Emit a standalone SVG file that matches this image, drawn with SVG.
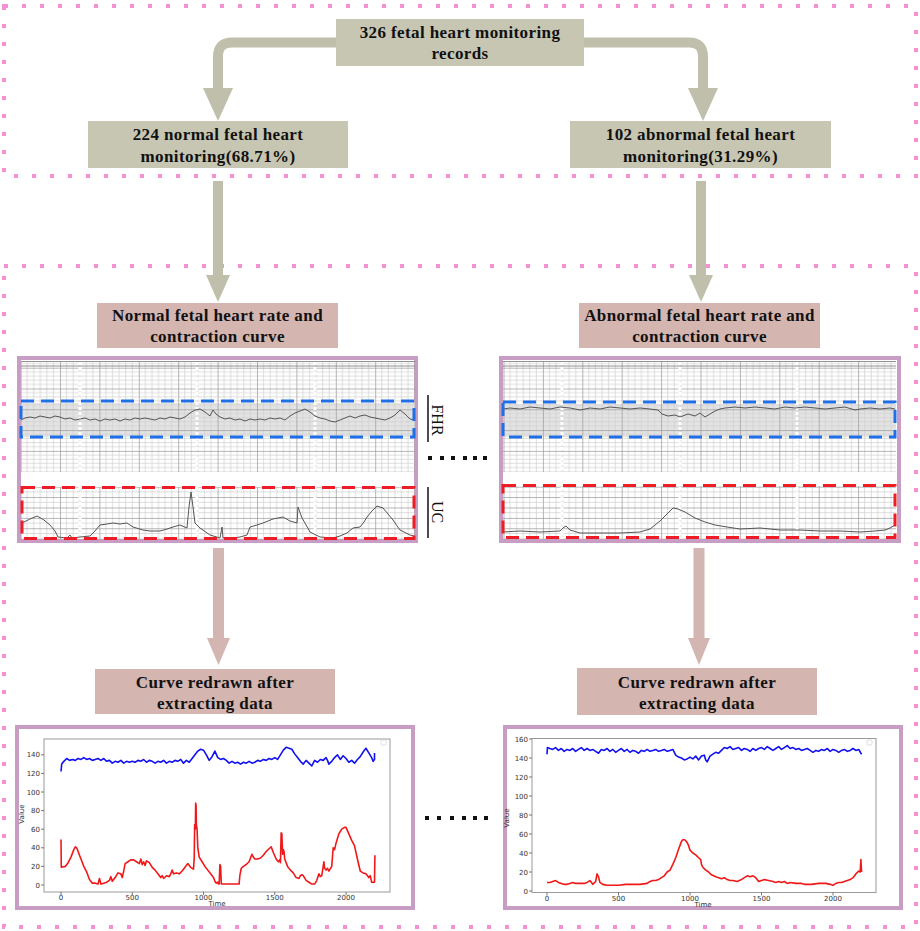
<svg xmlns="http://www.w3.org/2000/svg" width="920" height="931" viewBox="0 0 920 931">
<style>
.dotb{fill:none;stroke:#f590d2;stroke-width:4;stroke-dasharray:4 14}
.gbox{fill:#c6c6b3}
.pbox{fill:#d4b5b0}
.t{font-family:"Liberation Serif","Times New Roman",serif;font-weight:bold;font-size:17px;fill:#111;text-anchor:middle;letter-spacing:0.4px}
.lab{font-family:"Liberation Serif","Times New Roman",serif;font-size:16px;fill:#111;text-anchor:middle}
.garr{fill:none;stroke:#bfbfab;stroke-width:10}
.gah{fill:#bfbfab}
.parr{fill:none;stroke:#d3b5b1;stroke-width:11}
.pah{fill:#d3b5b1}
.frame{fill:#fff;stroke:#c79dc3;stroke-width:4}
.band{fill:#e3e3e3}
.bdash{fill:none;stroke:#1f6fe8;stroke-width:3;stroke-dasharray:13 7}
.rdash{fill:none;stroke:#ee1c25;stroke-width:3;stroke-dasharray:13 7}
.trace{fill:none;stroke:#555;stroke-width:1}
.col{stroke:#fff;stroke-width:3;stroke-dasharray:3 2}
.tick{font-family:"DejaVu Sans",sans-serif;font-size:7px;fill:#333}
.ax{fill:none;stroke:#999;stroke-width:1}
.tk{stroke:#555;stroke-width:0.8}
.blue{fill:none;stroke:#1010f0;stroke-width:1.6;stroke-linejoin:round}
.red{fill:none;stroke:#f01818;stroke-width:1.6;stroke-linejoin:round}
.sq{fill:#111}
</style>
<defs>
<pattern id="fhrL" patternUnits="userSpaceOnUse" x="20.6" y="367.7" width="39.4" height="20.8">
<path d="M6.57 0V20.8M13.13 0V20.8M19.7 0V20.8M26.27 0V20.8M32.83 0V20.8M0 4.16H39.4M0 8.32H39.4M0 12.48H39.4M0 16.64H39.4" stroke="#cfcfcf" stroke-width="0.7"/>
<path d="M0.4 0V20.8M0 0.4H39.4" stroke="#9a9a9a" stroke-width="0.8"/>
</pattern>
<pattern id="fhrR" patternUnits="userSpaceOnUse" x="503.5" y="367.7" width="39.4" height="20.8">
<path d="M6.57 0V20.8M13.13 0V20.8M19.7 0V20.8M26.27 0V20.8M32.83 0V20.8M0 4.16H39.4M0 8.32H39.4M0 12.48H39.4M0 16.64H39.4" stroke="#cfcfcf" stroke-width="0.7"/>
<path d="M0.4 0V20.8M0 0.4H39.4" stroke="#9a9a9a" stroke-width="0.8"/>
</pattern>
<pattern id="ucL" patternUnits="userSpaceOnUse" x="20.6" y="486.7" width="39.4" height="10.4">
<path d="M6.57 0V10.4M13.13 0V10.4M19.7 0V10.4M26.27 0V10.4M32.83 0V10.4M0 5.2H39.4" stroke="#cfcfcf" stroke-width="0.7"/>
<path d="M0.4 0V10.4M0 0.4H39.4" stroke="#9a9a9a" stroke-width="0.8"/>
</pattern>
<pattern id="ucR" patternUnits="userSpaceOnUse" x="503.5" y="486.7" width="39.4" height="10.4">
<path d="M6.57 0V10.4M13.13 0V10.4M19.7 0V10.4M26.27 0V10.4M32.83 0V10.4M0 5.2H39.4" stroke="#cfcfcf" stroke-width="0.7"/>
<path d="M0.4 0V10.4M0 0.4H39.4" stroke="#9a9a9a" stroke-width="0.8"/>
</pattern>
</defs>
<rect width="920" height="931" fill="#fff"/>
<g id="borders">
<rect class="dotb" x="4" y="6" width="912" height="170"/>
<rect class="dotb" x="4" y="266" width="912" height="661"/>
</g>
<g id="connectors">
<path class="garr" d="M336 42.5H232Q218 42.5 218 56.5V90"/>
<polygon class="gah" points="203,88 233,88 218,121"/>
<path class="garr" d="M584 42.5H689Q703 42.5 703 56.5V90"/>
<polygon class="gah" points="688,88 718,88 703,121"/>
<path class="garr" d="M218 181V277"/>
<polygon class="gah" points="206,275 230,275 218,302"/>
<path class="garr" d="M701 181V277"/>
<polygon class="gah" points="689,275 713,275 701,302"/>
<path class="parr" d="M218.5 548V640"/>
<polygon class="pah" points="207,638 230,638 218.5,665"/>
<path class="parr" d="M699 548V640"/>
<polygon class="pah" points="688,638 710,638 699,665"/>
</g>
<g id="n-records">
<rect class="gbox" x="336" y="19" width="248" height="47"/>
<text class="t" x="460" y="38">326 fetal heart monitoring</text>
<text class="t" x="460" y="59">records</text>
</g>
<g id="n-normal">
<rect class="gbox" x="88" y="121" width="260" height="47"/>
<text class="t" x="218" y="140">224 normal fetal heart</text>
<text class="t" x="218" y="162">monitoring(68.71%)</text>
</g>
<g id="n-abnormal">
<rect class="gbox" x="570" y="121" width="261" height="47"/>
<text class="t" x="700.5" y="140">102 abnormal fetal heart</text>
<text class="t" x="700.5" y="162">monitoring(31.29%)</text>
</g>
<g id="n-normal-curve-title">
<rect class="pbox" x="97" y="303" width="241" height="45"/>
<text class="t" x="217.5" y="321">Normal fetal heart rate and</text>
<text class="t" x="217.5" y="342">contraction curve</text>
</g>
<g id="n-abnormal-curve-title">
<rect class="pbox" x="579" y="303" width="241" height="45"/>
<text class="t" x="699.5" y="321">Abnormal fetal heart rate and</text>
<text class="t" x="699.5" y="342">contraction curve</text>
</g>
<g id="n-normal-ctg">
<rect class="frame" x="19" y="358" width="397" height="183"/>
<rect class="band" x="21" y="403" width="394" height="34"/>
<rect x="21" y="362" width="394" height="110" fill="url(#fhrL)"/>
<rect x="21" y="487" width="394" height="52" fill="url(#ucL)"/>
<path d="M21 361.5H415M21 366H415" stroke="#777" stroke-width="0.8"/>
<path class="col" d="M80 362V472M197 362V472M315 362V472M80 487V539M197 487V539M315 487V539"/>
<polyline class="trace" points="21,420 25,418 30,417 35,418 40,416 45,417 50,418 55,416 60,417 65,419 70,418 75,420 80,419 85,418 90,420 95,419 100,421 105,419 110,420 115,419 120,421 125,419 130,420 135,418 140,419 145,418 150,419 155,420 160,418 165,419 170,417 175,418 180,419 185,417 190,413 195,410 200,409 205,412 210,416 213,410 216,414 220,417 225,419 230,418 235,420 240,419 245,421 250,419 255,420 260,419 265,420 270,418 275,419 280,418 285,420 290,416 295,413 300,411 305,409 310,412 315,416 320,418 325,419 330,421 335,422 340,420 345,418 350,416 355,418 360,416 365,415 370,417 375,418 380,419 385,420 390,418 395,415 400,410 405,414 410,419 414,420"/>
<polyline class="trace" points="22,523 30,519 37,516 44,520 50,525 55,531 58,537 67,538 70,535 72,538 80,537 90,536 95,531 100,525 107,524 113,523 120,524 127,523 133,527 143,530 150,531 160,531 167,529 173,527 180,525 187,528 189,507 191,492 193,507 195,523 200,528 210,535 220,538 222,527 223,538 233,538 240,537 247,535 250,527 257,525 263,523 268,521 273,519 278,518 283,517 290,521 297,523 298,507 302,518 305,523 310,532 320,537 333,538 340,536 347,533 353,528 360,527 364,522 367,517 372,511 377,506 383,508 388,514 393,520 400,530 410,535 414,536"/>
<rect class="bdash" x="21" y="401" width="393" height="36"/>
<rect class="rdash" x="22" y="487.5" width="392" height="51"/>
</g>
<g id="n-abnormal-ctg">
<rect class="frame" x="501" y="358" width="398" height="183"/>
<rect class="band" x="503" y="404" width="393" height="33"/>
<rect x="503" y="362" width="393" height="110" fill="url(#fhrR)"/>
<rect x="503" y="486" width="393" height="53" fill="url(#ucR)"/>
<path d="M503 361.5H896M503 366H896" stroke="#777" stroke-width="0.8"/>
<path class="col" d="M562 362V472M680 362V472M797 362V472M562 487V539M680 487V539M797 487V539"/>
<polyline class="trace" points="503,409 510,408 520,409 530,407 540,408 550,409 560,407 570,408 580,410 590,408 600,409 610,407 620,408 630,409 640,408 650,409 658,410 662,414 668,416 675,415 680,417 688,414 695,416 700,413 705,417 710,414 715,411 720,409 725,408 735,407 745,408 755,407 765,408 775,409 785,407 795,408 805,407 815,408 825,409 835,408 845,407 855,410 860,409 870,408 880,409 890,408 895,409"/>
<polyline class="trace" points="503,532 520,531 540,532 560,531 563,528 566,526 570,530 580,533 600,533 620,533 640,532 650,529 660,521 668,513 673,508 678,509 685,512 695,518 705,522 715,525 727,527 740,529 760,528 780,530 800,530 820,531 840,531 860,532 875,531 885,530 890,528 895,525"/>
<rect class="bdash" x="503" y="402" width="392" height="35"/>
<rect class="rdash" x="503" y="485.5" width="392" height="52"/>
</g>
<g id="side-labels">
<path d="M428 395V442M428 487V538" stroke="#111" stroke-width="1.5"/>
<text class="lab" x="432" y="420" transform="rotate(90 432 420)">FHR</text>
<text class="lab" x="432" y="512" transform="rotate(90 432 512)">UC</text>
<rect class="sq" x="428" y="456" width="4" height="4"/>
<rect class="sq" x="440" y="456" width="4" height="4"/>
<rect class="sq" x="451" y="456" width="4" height="4"/>
<rect class="sq" x="463" y="456" width="4" height="4"/>
<rect class="sq" x="473" y="456" width="4" height="4"/>
<rect class="sq" x="483" y="456" width="4" height="4"/>
<rect class="sq" x="425" y="816" width="4" height="4"/>
<rect class="sq" x="437" y="816" width="4" height="4"/>
<rect class="sq" x="450" y="816" width="4" height="4"/>
<rect class="sq" x="462" y="816" width="4" height="4"/>
<rect class="sq" x="473" y="816" width="4" height="4"/>
<rect class="sq" x="484" y="816" width="4" height="4"/>
</g>
<g id="n-normal-redrawn-title">
<rect class="pbox" x="95" y="669" width="240" height="45"/>
<text class="t" x="215" y="688">Curve redrawn after</text>
<text class="t" x="215" y="709">extracting data</text>
</g>
<g id="n-abnormal-redrawn-title">
<rect class="pbox" x="577" y="668" width="240" height="47"/>
<text class="t" x="697" y="688">Curve redrawn after</text>
<text class="t" x="697" y="709">extracting data</text>
</g>
<g id="n-normal-chart">
<rect class="frame" x="17" y="727" width="396" height="181"/>
<rect class="ax" x="44" y="739" width="346" height="153"/>
<rect x="381" y="740" width="5" height="5" rx="1" fill="none" stroke="#ccc" stroke-width="0.6"/>
<path class="tk" d="M41 885H44M41 866.4H44M41 847.8H44M41 829.2H44M41 810.6H44M41 792H44M41 773.4H44M41 754.8H44M61 892V895M132.25 892V895M203.5 892V895M274.75 892V895M346 892V895"/>
<g class="tick" text-anchor="end">
<text x="40" y="887.5">0</text><text x="40" y="868.9">20</text><text x="40" y="850.3">40</text><text x="40" y="831.7">60</text><text x="40" y="813.1">80</text><text x="40" y="794.5">100</text><text x="40" y="775.9">120</text><text x="40" y="757.3">140</text>
</g>
<g class="tick" text-anchor="middle">
<text x="61" y="900">0</text><text x="132.25" y="900">500</text><text x="203.5" y="900">1000</text><text x="274.75" y="900">1500</text><text x="346" y="900">2000</text>
<text x="217" y="906">Time</text>
<text x="24" y="814" transform="rotate(-90 24 814)">Value</text>
</g>
<g transform="matrix(0.1425 0 0 -0.93 61 885)">
<polyline class="blue" vector-effect="non-scaling-stroke" points="0,122 5,130 20,133 40,136 60,134 80,135 100,134 120,136 140,135 160,137 180,135 200,136 220,134 240,135 260,136 280,134 300,136 320,133 340,134 360,131 380,133 400,132 420,134 440,131 460,133 480,132 500,133 520,132 540,134 560,133 580,135 600,132 620,134 640,133 660,131 680,133 700,132 720,134 740,131 760,133 780,132 800,134 820,133 840,135 860,131 880,134 900,132 920,136 940,140 960,144 980,146 1000,145 1020,140 1040,134 1060,138 1080,144 1100,137 1120,135 1140,136 1160,134 1180,131 1200,133 1220,131 1240,132 1260,130 1280,132 1300,131 1320,133 1340,131 1360,132 1380,134 1400,133 1420,135 1440,134 1460,136 1480,135 1500,137 1520,135 1540,140 1560,145 1580,148 1600,147 1620,146 1640,141 1660,137 1680,133 1700,130 1720,134 1740,131 1760,128 1780,134 1800,132 1820,135 1840,134 1860,137 1870,134 1880,130 1900,133 1920,137 1940,140 1960,135 1980,139 2000,136 2020,132 2040,134 2060,131 2080,135 2100,138 2120,143 2140,147 2160,142 2180,137 2190,133 2200,135 2200,142"/>
<polyline class="red" vector-effect="non-scaling-stroke" points="0,49 2,19 30,20 50,24 70,30 90,38 100,41 110,40 120,36 140,28 160,20 180,14 200,6 220,2 240,2 260,1 270,7 280,1 300,2 320,3 340,5 350,9 360,4 380,8 400,13 420,12 430,8 440,15 450,23 470,25 490,27 510,27 530,25 550,23 560,28 570,22 580,25 590,21 600,26 620,24 640,19 660,16 680,12 700,8 710,10 720,7 740,10 760,9 770,12 780,16 790,12 810,13 830,12 850,15 870,19 890,23 910,19 930,17 935,30 938,65 943,60 945,88 948,85 950,65 955,60 960,40 970,30 990,25 1010,20 1030,16 1050,12 1070,8 1080,4 1090,2 1100,3 1105,1 1110,1 1115,22 1120,20 1125,1 1250,1 1255,10 1265,18 1280,20 1300,22 1320,25 1340,33 1350,30 1360,28 1380,28 1400,29 1420,32 1440,36 1460,39 1475,41 1490,35 1510,28 1525,25 1535,27 1540,24 1545,56 1550,55 1555,33 1560,38 1565,36 1570,28 1590,20 1610,16 1630,13 1650,8 1670,7 1680,10 1690,11 1700,10 1720,5 1740,3 1760,1 1780,1 1795,5 1810,12 1820,9 1830,10 1845,25 1850,18 1860,16 1870,18 1880,15 1900,20 1910,40 1920,38 1930,45 1950,55 1970,60 1990,62 2000,62 2020,55 2040,48 2060,42 2080,28 2100,15 2120,13 2140,12 2160,8 2170,10 2180,3 2190,3 2200,3 2203,32"/>
</g>
</g>
<g id="n-abnormal-chart">
<rect class="frame" x="505" y="727" width="396" height="181"/>
<rect class="ax" x="532" y="738.5" width="344" height="154"/>
<rect x="867" y="740" width="5" height="5" rx="1" fill="none" stroke="#ccc" stroke-width="0.6"/>
<path class="tk" d="M529 891H532M529 872H532M529 853H532M529 834H532M529 815H532M529 796H532M529 777H532M529 758H532M529 739H532M547 892.5V895.5M618.5 892.5V895.5M690 892.5V895.5M761.5 892.5V895.5M833 892.5V895.5"/>
<g class="tick" text-anchor="end">
<text x="528" y="893.5">0</text><text x="528" y="874.5">20</text><text x="528" y="855.5">40</text><text x="528" y="836.5">60</text><text x="528" y="817.5">80</text><text x="528" y="798.5">100</text><text x="528" y="779.5">120</text><text x="528" y="760.5">140</text><text x="528" y="741.5">160</text>
</g>
<g class="tick" text-anchor="middle">
<text x="547" y="901">0</text><text x="618.5" y="901">500</text><text x="690" y="901">1000</text><text x="761.5" y="901">1500</text><text x="833" y="901">2000</text>
<text x="703" y="907">Time</text>
<text x="509" y="818" transform="rotate(-90 509 818)">Value</text>
</g>
<g transform="matrix(0.143 0 0 -0.95 547 891)">
<polyline class="blue" vector-effect="non-scaling-stroke" points="0,144 3,151 20,150 40,149 60,151 80,148 100,150 120,147 140,149 160,148 180,150 200,147 220,149 240,151 260,148 280,150 300,148 320,149 340,147 360,145 380,149 400,148 420,150 440,147 460,149 480,146 500,148 520,150 540,147 560,149 580,146 600,148 620,147 640,145 660,148 680,147 700,149 720,147 740,148 760,149 780,147 800,148 820,149 840,147 860,148 880,149 900,143 920,141 940,140 960,138 980,139 1000,141 1020,139 1040,142 1060,138 1080,142 1100,143 1110,138 1120,136 1140,142 1160,144 1180,146 1200,145 1220,148 1240,151 1260,150 1280,152 1300,149 1320,150 1340,151 1360,148 1380,150 1400,149 1420,147 1440,150 1460,148 1480,150 1500,151 1520,149 1540,152 1560,150 1580,148 1600,150 1620,152 1640,149 1660,151 1680,153 1700,150 1720,151 1740,149 1760,150 1780,148 1800,149 1820,150 1840,148 1860,146 1880,148 1900,147 1920,149 1940,148 1960,150 1980,147 2000,149 2020,148 2040,146 2060,148 2080,149 2100,147 2120,148 2140,150 2160,148 2180,149 2195,145 2200,144"/>
<polyline class="red" vector-effect="non-scaling-stroke" points="0,9 20,9 40,10 60,11 80,9 100,8 120,7 140,7 160,8 180,9 200,8 220,8 260,8 280,9 300,11 320,7 340,10 350,18 360,15 370,9 390,7 420,6 450,6 500,6 550,7 600,7 650,7 700,8 720,10 740,11 760,11 780,12 800,14 820,16 840,20 860,22 880,28 900,35 920,44 940,52 950,54 960,54 970,53 980,51 990,48 1000,43 1020,40 1040,38 1060,35 1075,33 1080,28 1090,25 1110,22 1130,20 1150,17 1180,15 1200,14 1220,13 1240,14 1260,12 1280,11 1300,11 1330,10 1360,12 1380,14 1400,16 1420,15 1440,16 1460,14 1480,10 1500,11 1520,12 1550,11 1580,10 1600,9 1620,10 1640,9 1660,10 1680,8 1700,9 1740,8 1780,8 1800,7 1850,7 1900,8 1950,8 1980,7 2000,6 2020,8 2040,9 2060,9 2080,10 2100,11 2120,12 2140,14 2160,18 2180,21 2190,20 2195,33 2200,20"/>
</g>
</g>
</svg>
